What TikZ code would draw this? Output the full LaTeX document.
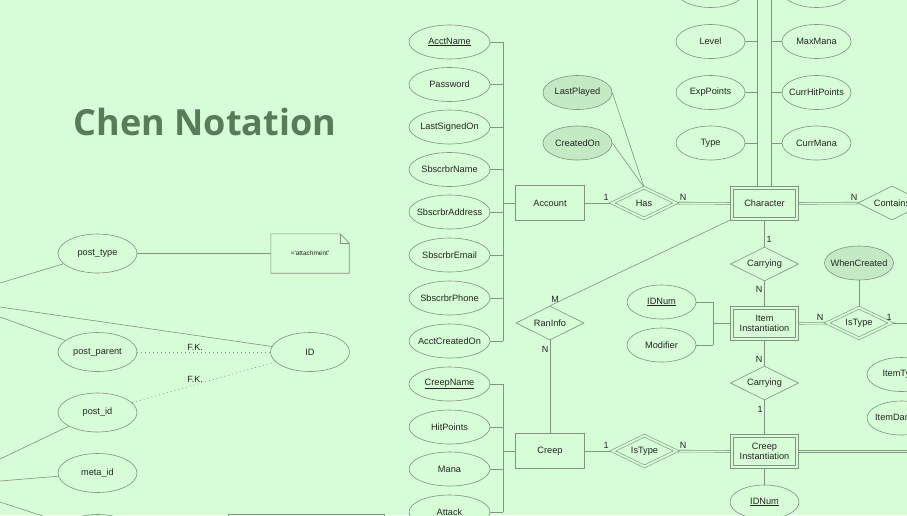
\documentclass[tikz,border=0pt]{standalone}
\usepackage{fontspec}
\setmainfont{Liberation Sans}
\newfontfamily\titlefont{Open Sans}
\usetikzlibrary{shapes.geometric,backgrounds}
\definecolor{bg}{RGB}{214,253,214}
\definecolor{ln}{RGB}{128,148,128}
\definecolor{tx}{RGB}{34,38,34}
\definecolor{hl}{RGB}{196,234,196}
\definecolor{ttl}{RGB}{88,124,88}
\begin{document}
\begin{tikzpicture}[x=1pt,y=-1pt,
  every node/.style={font=\fontsize{9.2}{10.5}\selectfont, text=tx},
  zerow/.style={execute at begin node={\hbox to 0pt\bgroup\hss}, execute at end node={\hss\egroup}},
  attr/.style={ellipse, draw=ln, line width=0.6pt, fill=bg, minimum width=81pt, minimum height=34pt, inner sep=0pt, zerow},
  attrs/.style={attr, minimum width=69pt},
  attrl/.style={attr, minimum width=79pt, minimum height=39pt},
  hattr/.style={attrs, fill=hl},
  ent/.style={rectangle, draw=ln, line width=0.6pt, fill=bg, minimum width=69pt, minimum height=35pt, inner sep=0pt, align=center},
  went/.style={ent, double=bg, double distance=2.4pt, minimum width=65pt, minimum height=31pt},
  rel/.style={diamond, draw=ln, line width=0.6pt, fill=bg, minimum width=68pt, minimum height=34pt, inner sep=0pt, aspect=2, zerow},
  wrel/.style={rel, double=bg, double distance=2pt, minimum width=64pt, minimum height=31pt},
  conn/.style={draw=ln, line width=0.6pt},
  dconn/.style={draw=ln, double=bg, double distance=1.2pt, line width=0.6pt},
  fk/.style={draw=ln, line width=0.6pt, dash pattern=on 1pt off 3pt},
  lbl/.style={inner sep=0pt, font=\fontsize{9}{10}\selectfont},
]
\useasboundingbox (0,0) rectangle (907,515);
\clip (0,0) rectangle (907,515);

% title
\node[font=\titlefont\bfseries\fontsize{36}{40}\selectfont, text=ttl] (title) at (205,122) {Chen Notation};

% left part
\node[attrl] (ptype) at (97.5,253.5) {post\_type};
\node[minimum width=78pt, minimum height=39pt, inner sep=0pt, font=\fontsize{6.5}{7.5}\selectfont] (note) at (310,253.5) {=\textquotesingle attachment\textquotesingle};
\node[attrl] (id) at (310,352) {ID};
\node[attrl] (pparent) at (97.5,352) {post\_parent};
\node[attrl] (pid) at (97.5,412.5) {post\_id};
\node[attrl] (mid) at (97.5,473) {meta\_id};
\node[attrl] (pnext) at (97.5,534) {};
\node[draw=ln, line width=0.6pt, minimum width=156pt, minimum height=40pt] (brect) at (306,534) {};
\node[lbl] (fk1) at (195,347) {F.K.};
\node[lbl] (fk2) at (195,379) {F.K.};
\coordinate (L1) at (0,283);
\coordinate (L2) at (0,307);
\coordinate (L3) at (0,317);
\coordinate (L4) at (0,459);
\coordinate (L5) at (0,481);
\coordinate (L6) at (0,502);

% account attributes
\node[attr] (acct) at (449.5,42) {\underline{AcctName}};
\node[attr] (pwd) at (449.5,84.5) {Password};
\node[attr] (lso) at (449.5,127) {LastSignedOn};
\node[attr] (sname) at (449.5,169.5) {SbscrbrName};
\node[attr] (saddr) at (449.5,212) {SbscrbrAddress};
\node[attr] (semail) at (449.5,255) {SbscrbrEmail};
\node[attr] (sphone) at (449.5,298) {SbscrbrPhone};
\node[attr] (acreated) at (449.5,341) {AcctCreatedOn};
% creep attributes
\node[attr] (cname) at (449.5,384) {\underline{CreepName}};
\node[attr] (hp) at (449.5,427) {HitPoints};
\node[attr] (mana) at (449.5,469) {Mana};
\node[attr] (attack) at (449.5,512) {Attack};
\coordinate (busA) at (503,0);

\node[ent] (account) at (550,203) {Account};
\node[wrel] (has) at (644,203) {Has};
\node[went] (char) at (764.5,203.5) {Character};
\node[rel] (contains) at (892,203) {Contains};
\node[hattr] (lastplayed) at (577.5,92.5) {LastPlayed};
\node[hattr] (createdon) at (577.5,143) {CreatedOn};

% character attributes
\node[attrs] (cl0) at (710.5,-9.5) {};
\node[attrs] (level) at (710.5,41.5) {Level};
\node[attrs] (exp) at (710.5,92.5) {ExpPoints};
\node[attrs] (type) at (710.5,143) {Type};
\node[attrs] (cr0) at (816.5,-9.5) {};
\node[attrs] (maxmana) at (816.5,41.5) {MaxMana};
\node[attrs] (currhp) at (816.5,92.5) {CurrHitPoints};
\node[attrs] (currmana) at (816.5,143) {CurrMana};
\coordinate (busL) at (757,-30);
\coordinate (busR) at (771,-30);

\node[rel] (carry1) at (764.5,264) {Carrying};
\node[went] (iteminst) at (764.5,323.5) {Item\\Instantiation};
\node[rel] (carry2) at (764.5,383) {Carrying};
\node[went] (creepinst) at (764.5,451.5) {Creep\\Instantiation};
\node[attrs] (idnum2) at (764.5,502) {\underline{IDNum}};
\node[attrs] (idnum1) at (661.5,302) {\underline{IDNum}};
\node[attrs] (modifier) at (661.5,345) {Modifier};
\coordinate (busI) at (713,0);
\node[wrel] (istype1) at (859,323) {IsType};
\node[hattr] (whencreated) at (859,263) {WhenCreated};
\node[attrs] (itemtype) at (901.5,374.5) {ItemType};
\node[attrs] (itemdmg) at (901.5,418) {ItemDamage};
\coordinate (R1) at (920,323);
\coordinate (R2) at (920,451.5);

\node[rel] (raninfo) at (550,323) {RanInfo};
\node[ent] (creep) at (550,451) {Creep};
\node[wrel] (istype2) at (644.5,451) {IsType};

% cardinality labels
\node[lbl] (c1) at (606,197) {1};
\node[lbl] (c2) at (683,197) {N};
\node[lbl] (c3) at (854,197) {N};
\node[lbl] (c4) at (769,239) {1};
\node[lbl] (c5) at (759,289) {N};
\node[lbl] (c6) at (820,317) {N};
\node[lbl] (c7) at (889,317) {1};
\node[lbl] (c8) at (759,359) {N};
\node[lbl] (c9) at (760,409) {1};
\node[lbl] (c10) at (683,445) {N};
\node[lbl] (c11) at (606,445) {1};
\node[lbl] (c12) at (555,299) {M};
\node[lbl] (c13) at (545,349) {N};

\begin{pgfonlayer}{background}
\clip (0,0) rectangle (907,515);
\fill[bg] (0,0) rectangle (907,515);
% left
\draw[conn] (L1) -- (ptype);
\draw[conn] (L2) -- (id);
\draw[conn] (L3) -- (pparent);
\draw[conn] (L4) -- (pid);
\draw[conn] (L5) -- (mid);
\draw[conn] (L6) -- (pnext);
\draw[conn] (ptype.east) -- (note.west);
\draw[conn] (note.north west) -- ([xshift=-9pt]note.north east) -- ([yshift=-9pt]note.north east) -- (note.south east) -- (note.south west) -- cycle;
\draw[conn] ([xshift=-9pt]note.north east) -- ([xshift=-9pt,yshift=-9pt]note.north east) -- ([yshift=-9pt]note.north east);
\draw[fk] (pparent.east) -- (id.west);
\draw[fk] (pid) -- (id);
% account bus
\foreach \n in {acct,pwd,lso,sname,saddr,semail,sphone,acreated}
  \draw[conn] (\n.east) -- (\n.east -| busA);
\draw[conn] (acct.east -| busA) -- (acreated.east -| busA);
\draw[conn] (account.west) -- (account.west -| busA);
% creep bus
\foreach \n in {cname,hp,mana,attack}
  \draw[conn] (\n.east) -- (\n.east -| busA);
\draw[conn] (cname.east -| busA) -- (attack.east -| busA);
\draw[conn] (creep.west) -- (creep.west -| busA);
% relationships
\draw[conn] (account) -- (has);
\draw[dconn] (has) -- (char);
\draw[dconn] (char) -- (contains);
\draw[conn] (lastplayed.east) -- (has.north);
\draw[conn] (createdon.east) -- (has.north);
% character buses
\draw[conn] (char.north -| busL) -- (busL);
\draw[conn] (char.north -| busR) -- (busR);
\foreach \n in {cl0,level,exp,type}
  \draw[conn] (\n.east) -- (\n.east -| busL);
\foreach \n in {cr0,maxmana,currhp,currmana}
  \draw[conn] (\n.west) -- (\n.west -| busR);
\draw[conn] (char.south west) -- (raninfo.north);
\draw[conn] (raninfo) -- (creep);
\draw[conn] (char) -- (carry1);
\draw[conn] (carry1) -- (iteminst);
\draw[conn] (iteminst) -- (carry2);
\draw[conn] (carry2) -- (creepinst);
\draw[conn] (creepinst) -- (idnum2);
% item instantiation bus
\draw[conn] (idnum1.east) -- (idnum1.east -| busI);
\draw[conn] (modifier.east) -- (modifier.east -| busI);
\draw[conn] (idnum1.east -| busI) -- (modifier.east -| busI);
\draw[conn] (iteminst.west -| busI) -- (iteminst.west);
\draw[dconn] (iteminst) -- (istype1);
\draw[conn] (istype1) -- (R1);
\draw[conn] (whencreated) -- (istype1);
\draw[conn] (creep) -- (istype2);
\draw[dconn] (istype2) -- (creepinst);
\draw[dconn] (creepinst) -- (R2);
\end{pgfonlayer}
\end{tikzpicture}
\end{document}
